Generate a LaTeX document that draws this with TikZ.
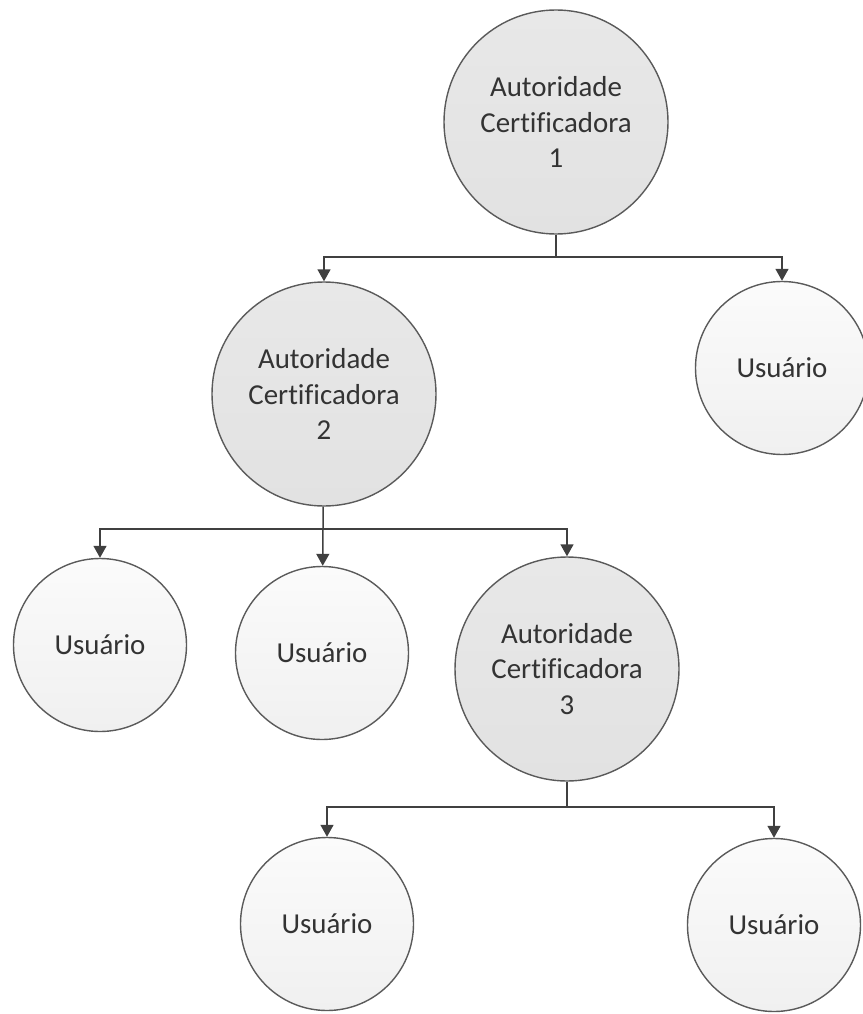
\documentclass[tikz,border=0pt]{standalone}
\usepackage{fontspec}
\setmainfont[Ligatures=NoCommon]{Carlito}
\usetikzlibrary{arrows.meta}
\definecolor{rim}{HTML}{5A5A5A}
\definecolor{wire}{HTML}{404040}
\definecolor{txt}{HTML}{333333}
\definecolor{catop}{HTML}{E8E8E8}
\definecolor{cabot}{HTML}{E2E2E2}
\definecolor{utop}{HTML}{FBFBFB}
\definecolor{ubot}{HTML}{F0F0F0}
\tikzset{
  ca/.style={circle, draw=rim, line width=1.4pt, inner sep=0pt,
    minimum size=224pt, top color=catop, bottom color=cabot,
    align=center, text=txt,
    font=\fontsize{28.9pt}{35.3pt}\selectfont},
  user/.style={circle, draw=rim, line width=1.4pt, inner sep=0pt,
    minimum size=173pt, top color=utop, bottom color=ubot,
    text=txt, font=\fontsize{28.9pt}{35.3pt}\selectfont},
  link/.style={draw=wire, line width=1.5pt},
  arrowlink/.style={link, -{Triangle[length=12pt,width=13pt]}},
}
\begin{document}
\begin{tikzpicture}[x=1pt,y=-1pt]
  \useasboundingbox (0,0) rectangle (862,1014);

  % certification authorities
  \node[ca] (ca1) at (556,122) {Autoridade\\Certificadora\\1};
  \node[ca] (ca2) at (324,394) {Autoridade\\Certificadora\\2};
  \node[ca] (ca3) at (567,669) {Autoridade\\Certificadora\\3};

  % end users
  \node[user] (u1) at (782,368) {Usuário};
  \node[user] (u2) at (100,645) {Usuário};
  \node[user] (u3) at (322,653) {Usuário};
  \node[user] (u4) at (327,924) {Usuário};
  \node[user] (u5) at (774,925) {Usuário};

  % branching points under each authority
  \coordinate (j1) at (556,257);
  \coordinate (j2) at (323,529);
  \coordinate (j3) at (567,807);

  \draw[link] (ca1) -- (j1);
  \draw[arrowlink] (j1) -| (ca2);
  \draw[arrowlink] (j1) -| (u1);

  \draw[link] (ca2) -- (j2);
  \draw[arrowlink] (j2) -| (u2);
  \draw[arrowlink] (j2) -- (u3);
  \draw[arrowlink] (j2) -| (ca3);

  \draw[link] (ca3) -- (j3);
  \draw[arrowlink] (j3) -| (u4);
  \draw[arrowlink] (j3) -| (u5);
\end{tikzpicture}
\end{document}
